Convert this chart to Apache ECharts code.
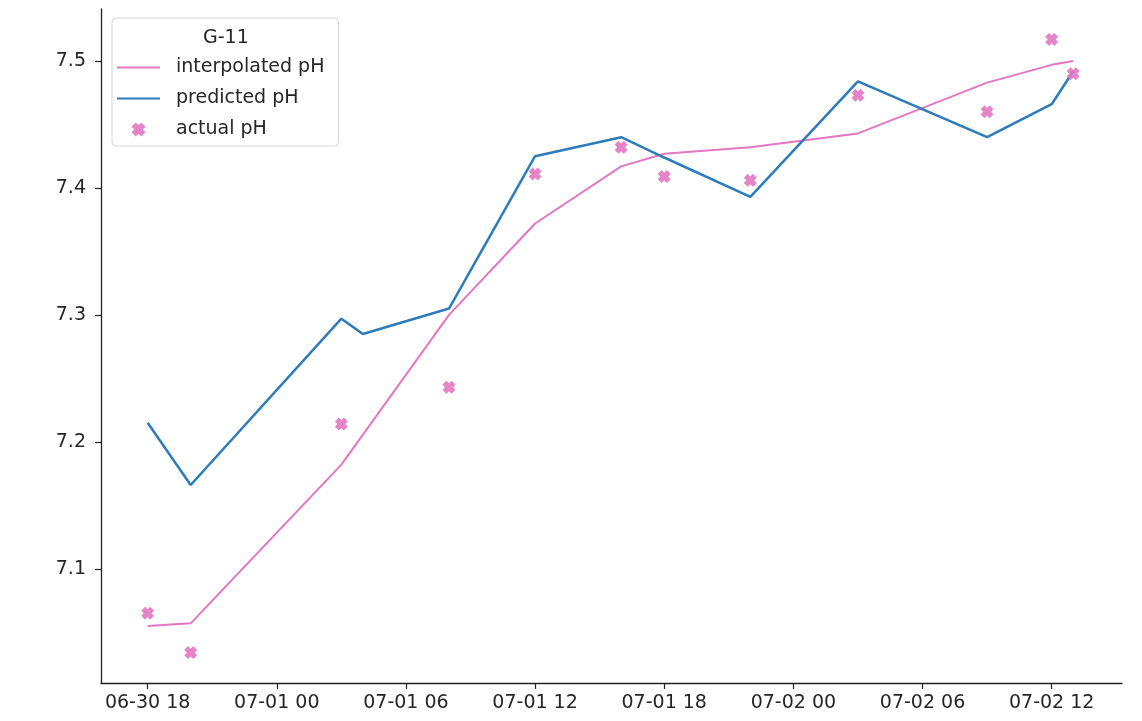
<!DOCTYPE html>
<html>
<head>
<meta charset="utf-8">
<title>G-11 pH</title>
<script src="https://cdn.jsdelivr.net/npm/echarts@6/dist/echarts.min.js"></script>
<style>
  html, body { margin: 0; padding: 0; background: #fff; }
  #chart { width: 1142px; height: 721px; }
</style>
</head>
<body>
<div id="chart"></div>
<script>
// Measurement times for station G-11
const actualTimes = [
  '2022-06-30 18:00', '2022-06-30 20:00', '2022-07-01 03:00', '2022-07-01 08:00',
  '2022-07-01 12:00', '2022-07-01 16:00', '2022-07-01 18:00', '2022-07-01 22:00',
  '2022-07-02 03:00', '2022-07-02 09:00', '2022-07-02 12:00', '2022-07-02 13:00'
];
const actualPH = [7.065, 7.034, 7.214, 7.243, 7.411, 7.432, 7.409, 7.406, 7.473, 7.460, 7.517, 7.490];
const interpolatedPH = [7.055, 7.057, 7.182, 7.300, 7.372, 7.417, 7.427, 7.432, 7.443, 7.483, 7.497, 7.500];

// Model output times (one extra step at 04:00 on 07-01)
const predictedTimes = [
  '2022-06-30 18:00', '2022-06-30 20:00', '2022-07-01 03:00', '2022-07-01 04:00',
  '2022-07-01 08:00', '2022-07-01 12:00', '2022-07-01 16:00', '2022-07-01 18:00',
  '2022-07-01 22:00', '2022-07-02 03:00', '2022-07-02 09:00', '2022-07-02 12:00',
  '2022-07-02 13:00'
];
const predictedPH = [7.215, 7.166, 7.297, 7.285, 7.305, 7.425, 7.440, 7.424, 7.393, 7.484, 7.440, 7.466, 7.492];

// Axis ticks
const xTickTimes = [
  '2022-06-30 18:00', '2022-07-01 00:00', '2022-07-01 06:00', '2022-07-01 12:00',
  '2022-07-01 18:00', '2022-07-02 00:00', '2022-07-02 06:00', '2022-07-02 12:00'
];
const yTicks = [7.1, 7.2, 7.3, 7.4, 7.5];
const xRange = ['2022-06-30 15:50', '2022-07-02 15:16'];
const yRange = [7.010, 7.541];

const toTs = s => new Date(s.replace(' ', 'T')).getTime();
const pad = n => String(n).padStart(2, '0');
const fmtTime = v => {
  const d = new Date(v);
  return pad(d.getMonth() + 1) + '-' + pad(d.getDate()) + ' ' + pad(d.getHours());
};
const pairs = (ts, vs) => ts.map((t, i) => [toTs(t), vs[i]]);

const PINK = '#e377c2';
const BLUE = '#2c7cbb';
const FONT = 'DejaVu Sans';
const TXT = '#262626';
const FS = 19;
// filled heavy "X" marker
const X_MARK = 'path://M3,0 L5,2 L7,0 L10,3 L8,5 L10,7 L7,10 L5,8 L3,10 L0,7 L2,5 L0,3 Z';
const LINE_ICON = 'path://M0,0 L40,0 L40,2 L0,2 Z';

const chart = echarts.init(document.getElementById('chart'), null, { renderer: 'canvas' });

chart.setOption({
  animation: false,
  backgroundColor: '#fff',
  textStyle: { fontFamily: FONT },
  grid: { left: 101, right: 20, top: 9, bottom: 38 },
  xAxis: {
    type: 'value',
    min: toTs(xRange[0]),
    max: toTs(xRange[1]),
    splitLine: { show: false },
    axisLine: { lineStyle: { color: '#222', width: 1.3 } },
    axisTick: {
      length: 6, lineStyle: { color: '#222', width: 1.2 },
      customValues: xTickTimes.map(toTs)
    },
    axisLabel: {
      customValues: xTickTimes.map(toTs),
      formatter: fmtTime,
      color: TXT, fontSize: FS, fontFamily: FONT, margin: 11
    }
  },
  yAxis: {
    type: 'value',
    min: yRange[0],
    max: yRange[1],
    splitLine: { show: false },
    axisLine: { show: true, lineStyle: { color: '#222', width: 1.3 } },
    axisTick: {
      show: true, length: 6, lineStyle: { color: '#222', width: 1.2 },
      customValues: yTicks
    },
    axisLabel: {
      customValues: yTicks,
      formatter: v => v.toFixed(1),
      color: TXT, fontSize: FS, fontFamily: FONT, margin: 15
    }
  },
  legend: {
    orient: 'vertical',
    left: 112,
    top: 18,
    padding: [40, 14, 7, 5],
    itemGap: 12,
    itemWidth: 43,
    itemHeight: 14,
    backgroundColor: 'rgba(255,255,255,0.8)',
    borderColor: '#d6d6d6',
    borderWidth: 1,
    borderRadius: 4,
    textStyle: { color: TXT, fontSize: FS, fontFamily: FONT, padding: [0, 0, 0, 11] },
    data: [
      { name: 'interpolated pH', icon: LINE_ICON },
      { name: 'predicted pH', icon: LINE_ICON },
      { name: 'actual pH', icon: X_MARK }
    ]
  },
  graphic: [{
    type: 'text',
    left: 203,
    top: 29,
    z: 100,
    style: { text: 'G-11', fill: TXT, font: FS + 'px "DejaVu Sans"' }
  }],
  series: [
    {
      name: 'interpolated pH',
      type: 'line',
      data: pairs(actualTimes, interpolatedPH),
      showSymbol: false,
      symbol: 'none',
      color: PINK,
      lineStyle: { color: PINK, width: 2 },
      itemStyle: { color: PINK },
      z: 2
    },
    {
      name: 'predicted pH',
      type: 'line',
      data: pairs(predictedTimes, predictedPH),
      showSymbol: false,
      symbol: 'none',
      color: BLUE,
      lineStyle: { color: BLUE, width: 2.5 },
      itemStyle: { color: BLUE },
      z: 3
    },
    {
      name: 'actual pH',
      type: 'scatter',
      data: pairs(actualTimes, actualPH),
      symbol: X_MARK,
      symbolSize: 13,
      itemStyle: { color: PINK, opacity: 0.9 },
      z: 4
    }
  ]
});
</script>
</body>
</html>
